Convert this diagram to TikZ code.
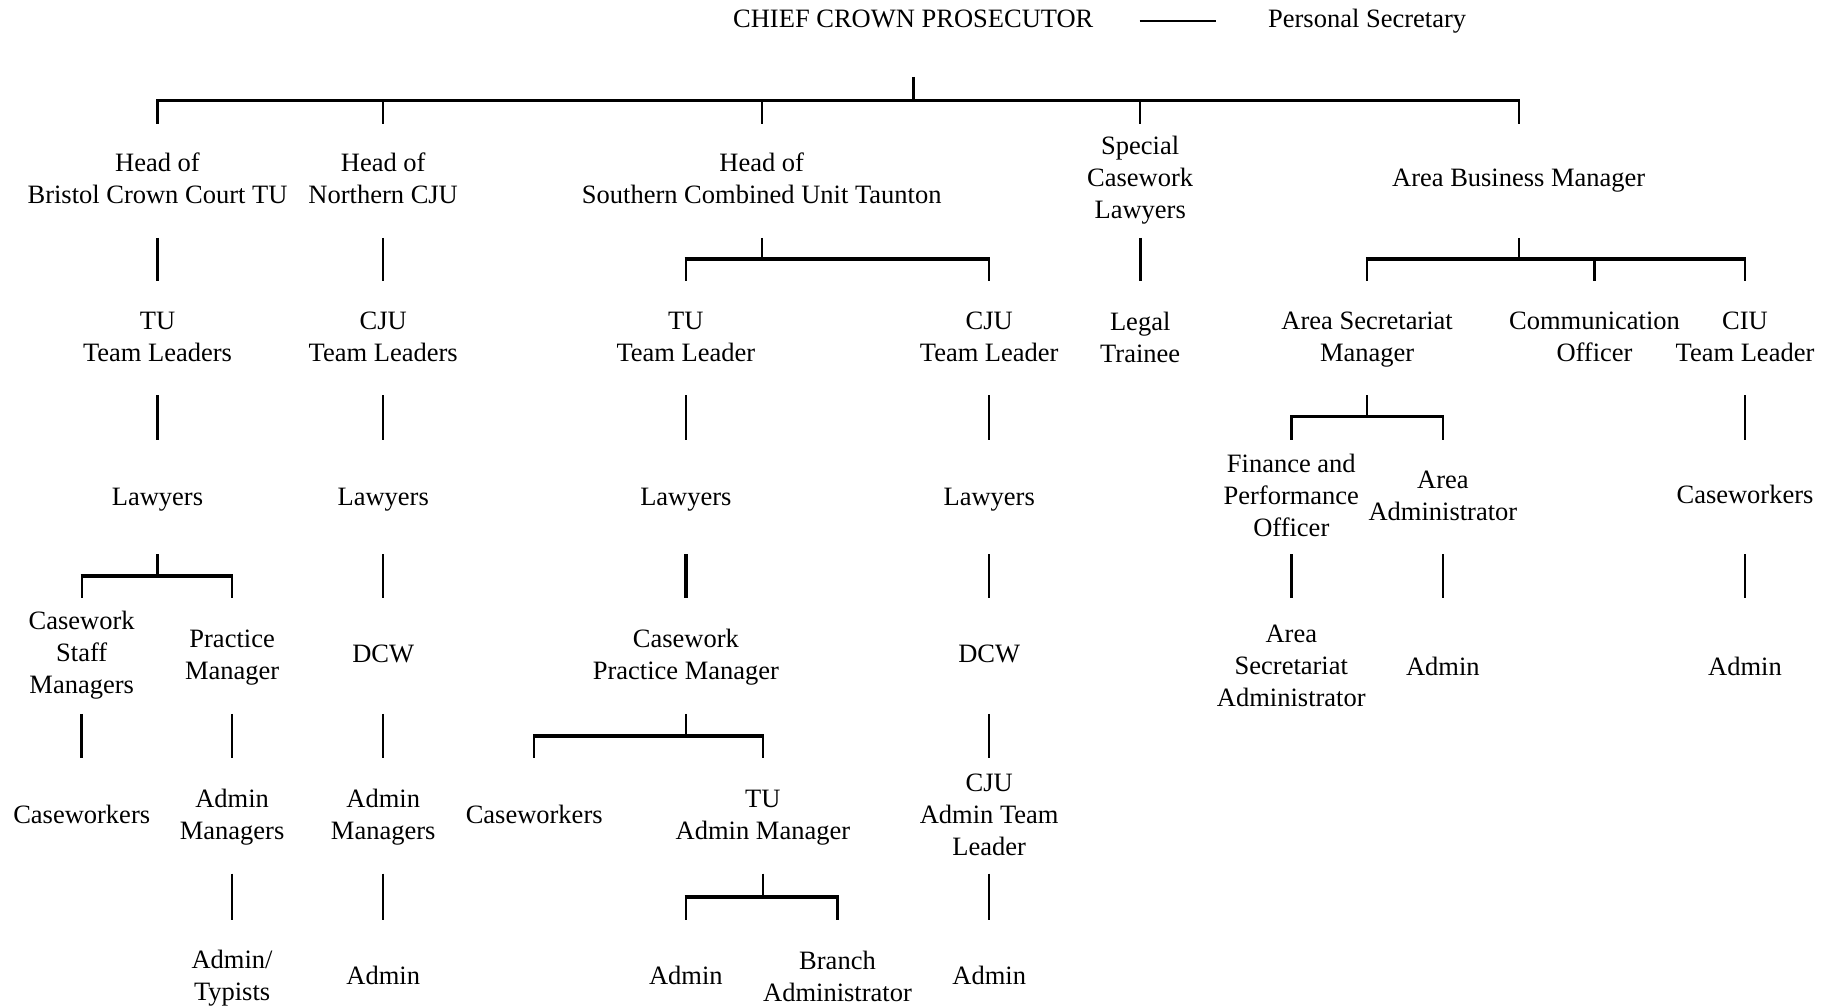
\documentclass[tikz,border=0pt]{standalone}
\usepackage{fontspec}
\setmainfont{Liberation Serif}
\begin{document}
\begin{tikzpicture}[x=1pt,y=-1pt,
  lbl/.style={font=\fontsize{26.5}{32}\selectfont, align=center, inner sep=0pt, anchor=center},
  vln/.style={line width=2.4pt},
  tvln/.style={line width=3.4pt},
  barln/.style={line width=3.5pt, shorten <=-1.2pt, shorten >=-1.2pt}]
\useasboundingbox (0,0) rectangle (1829,1008);
\fill[white] (0,0) rectangle (1829,1008);

% row coordinates
\coordinate (Ttop) at (0,77);   \coordinate (Tbar) at (0,100.3); \coordinate (Tbot) at (0,123.6);
\coordinate (Atop) at (0,238);  \coordinate (Abar) at (0,259);   \coordinate (Abot) at (0,281);
\coordinate (Btop) at (0,395.4);\coordinate (Bbar) at (0,416.4); \coordinate (Bbot) at (0,439.8);
\coordinate (Ctop) at (0,554);  \coordinate (Cbar) at (0,576.2); \coordinate (Cbot) at (0,598.4);
\coordinate (Dtop) at (0,713.9);\coordinate (Dbar) at (0,736);   \coordinate (Dbot) at (0,758.2);
\coordinate (Etop) at (0,873.7);\coordinate (Ebar) at (0,897);   \coordinate (Ebot) at (0,920);

% top
\node[lbl] (ccp) at (913.3,18.7) {CHIEF CROWN PROSECUTOR};
\node[lbl] (ps) at (1367.1,21.5) {Personal Secretary};

% level 1
\node[lbl] (h1) at (157.5,178) {Head of\\Bristol Crown Court TU};
\node[lbl] (h2) at (383.2,178) {Head of\\Northern CJU};
\node[lbl] (h3) at (761.7,178) {Head of\\Southern Combined Unit Taunton};
\node[lbl] (h4) at (1140.2,180.3) {Special\\Casework\\Lawyers};
\node[lbl] (h5) at (1518.7,180.8) {Area Business Manager};

% level 2
\node[lbl] (t1) at (157.5,337) {TU\\Team Leaders};
\node[lbl] (t2) at (383.2,337) {CJU\\Team Leaders};
\node[lbl] (t3) at (685.9,337) {TU\\Team Leader};
\node[lbl] (t4) at (989.2,337) {CJU\\Team Leader};
\node[lbl] (t5) at (1140.2,337) {Legal\\Trainee};
\node[lbl] (t6) at (1367.1,339.5) {Area Secretariat\\Manager};
\node[lbl] (t7) at (1594.5,337) {Communication\\Officer};
\node[lbl] (t8) at (1745,337) {CIU\\Team Leader};

% level 3
\node[lbl] (l1) at (157.5,499.2) {Lawyers};
\node[lbl] (l2) at (383.2,499.2) {Lawyers};
\node[lbl] (l3) at (685.9,499.2) {Lawyers};
\node[lbl] (l4) at (989.2,499.2) {Lawyers};
\node[lbl] (fpo) at (1291.3,495.6) {Finance and\\Performance\\Officer};
\node[lbl] (aad) at (1442.9,496.2) {Area\\Administrator};
\node[lbl] (cw8) at (1745,494.6) {Caseworkers};

% level 4
\node[lbl] (csm) at (81.7,655) {Casework\\Staff\\Managers};
\node[lbl] (pm) at (232.1,657.3) {Practice\\Manager};
\node[lbl] (dcw2) at (383.2,654) {DCW};
\node[lbl] (cpm) at (685.9,657.3) {Casework\\Practice Manager};
\node[lbl] (dcw4) at (989.2,654) {DCW};
\node[lbl] (asa) at (1291.3,666) {Area\\Secretariat\\Administrator};
\node[lbl] (ad6) at (1442.9,666) {Admin};
\node[lbl] (ad8) at (1745,666) {Admin};

% level 5
\node[lbl] (cw1) at (81.7,814.2) {Caseworkers};
\node[lbl] (am1) at (232.1,817.5) {Admin\\Managers};
\node[lbl] (am2) at (383.2,817.5) {Admin\\Managers};
\node[lbl] (cw3) at (534.2,814.2) {Caseworkers};
\node[lbl] (tuam) at (762.9,818) {TU\\Admin Manager};
\node[lbl] (cjat) at (989.2,815.2) {CJU\\Admin Team\\Leader};

% level 6
\node[lbl] (at1) at (232.1,978.5) {Admin/\\Typists};
\node[lbl] (ad2) at (383.2,975.5) {Admin};
\node[lbl] (ad3) at (685.9,975.5) {Admin};
\node[lbl] (ba) at (837.5,976.8) {Branch\\Administrator};
\node[lbl] (ad4) at (989.2,975.5) {Admin};

% CCP - Personal Secretary
\draw[line width=2.7pt, shorten <=46pt, shorten >=52pt]
  ([yshift=-2.3pt]ccp.east) -- ([yshift=-2.3pt]ccp.east -| ps.west);

% top fork
\draw[vln] (ccp|-Ttop) -- (ccp|-Tbar);
\draw[barln] (h1|-Tbar) -- (h5|-Tbar);
\foreach \n in {h1,h2,h3,h4,h5} \draw[vln] (\n|-Tbar) -- (\n|-Tbot);

% level 1 -> 2
\draw[vln] (h1|-Atop) -- (t1|-Abot);
\draw[vln] (h2|-Atop) -- (t2|-Abot);
\draw[tvln] (h4|-Atop) -- (t5|-Abot);
\draw[vln] (h3|-Atop) -- (h3|-Abar);
\draw[barln] (t3|-Abar) -- (t4|-Abar);
\foreach \n in {t3,t4} \draw[vln] (\n|-Abar) -- (\n|-Abot);
\draw[vln] (h5|-Atop) -- (h5|-Abar);
\draw[barln] (t6|-Abar) -- (t8|-Abar);
\foreach \n in {t6,t7,t8} \draw[vln] (\n|-Abar) -- (\n|-Abot);

% level 2 -> 3
\draw[tvln] (t1|-Btop) -- (l1|-Bbot);
\draw[vln] (t2|-Btop) -- (l2|-Bbot);
\draw[vln] (t3|-Btop) -- (l3|-Bbot);
\draw[vln] (t4|-Btop) -- (l4|-Bbot);
\draw[vln] (t8|-Btop) -- (cw8|-Bbot);
\draw[vln] (t6|-Btop) -- (t6|-Bbar);
\draw[barln] (fpo|-Bbar) -- (aad|-Bbar);
\foreach \n in {fpo,aad} \draw[vln] (\n|-Bbar) -- (\n|-Bbot);

% level 3 -> 4
\draw[vln] (l1|-Ctop) -- (l1|-Cbar);
\draw[barln] (csm|-Cbar) -- (pm|-Cbar);
\foreach \n in {csm,pm} \draw[vln] (\n|-Cbar) -- (\n|-Cbot);
\draw[vln] (l2|-Ctop) -- (dcw2|-Cbot);
\draw[tvln] (l3|-Ctop) -- (cpm|-Cbot);
\draw[vln] (l4|-Ctop) -- (dcw4|-Cbot);
\draw[vln] (fpo|-Ctop) -- (asa|-Cbot);
\draw[vln] (aad|-Ctop) -- (ad6|-Cbot);
\draw[vln] (cw8|-Ctop) -- (ad8|-Cbot);

% level 4 -> 5
\draw[tvln] (csm|-Dtop) -- (cw1|-Dbot);
\draw[vln] (pm|-Dtop) -- (am1|-Dbot);
\draw[vln] (dcw2|-Dtop) -- (am2|-Dbot);
\draw[vln] (dcw4|-Dtop) -- (cjat|-Dbot);
\draw[vln] (cpm|-Dtop) -- (cpm|-Dbar);
\draw[barln] (cw3|-Dbar) -- (tuam|-Dbar);
\foreach \n in {cw3,tuam} \draw[vln] (\n|-Dbar) -- (\n|-Dbot);

% level 5 -> 6
\draw[vln] (am1|-Etop) -- (at1|-Ebot);
\draw[vln] (am2|-Etop) -- (ad2|-Ebot);
\draw[vln] (cjat|-Etop) -- (ad4|-Ebot);
\draw[vln] (tuam|-Etop) -- (tuam|-Ebar);
\draw[barln] (ad3|-Ebar) -- (ba|-Ebar);
\foreach \n in {ad3,ba} \draw[vln] (\n|-Ebar) -- (\n|-Ebot);
\end{tikzpicture}
\end{document}
